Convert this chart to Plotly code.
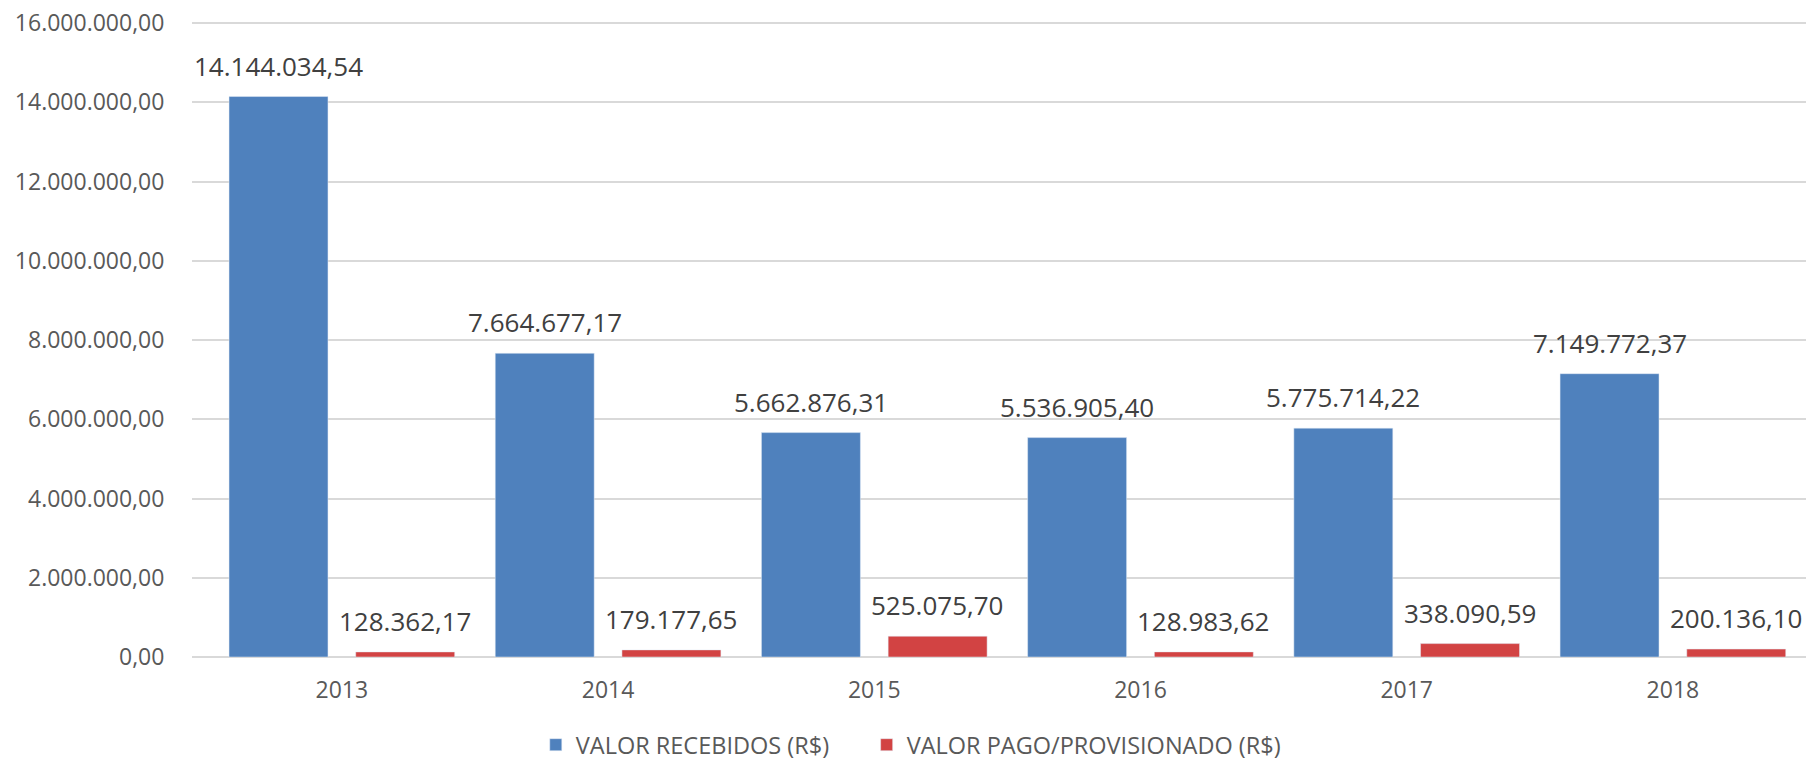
import plotly.graph_objects as go

years = ["2013", "2014", "2015", "2016", "2017", "2018"]
recebidos = [14144034.54, 7664677.17, 5662876.31, 5536905.40, 5775714.22, 7149772.37]
pagos = [128362.17, 179177.65, 525075.70, 128983.62, 338090.59, 200136.10]
name_rec = "VALOR RECEBIDOS (R$)"
name_pag = "VALOR PAGO/PROVISIONADO (R$)"
ytick_vals = [0, 2e6, 4e6, 6e6, 8e6, 10e6, 12e6, 14e6, 16e6]

BLUE = "#4F81BD"
RED = "#D24343"
FONT = "Open Sans"


def br(v):
    s = f"{v:,.2f}"
    return s.replace(",", "X").replace(".", ",").replace("X", ".")


BARGAP = 0.048
fig = go.Figure()
fig.add_trace(go.Bar(x=years, y=recebidos, name=name_rec, marker_color=BLUE,
                     legend="legend"))
fig.add_trace(go.Bar(x=years, y=pagos, name=name_pag, marker_color=RED,
                     legend="legend2"))

off = (1 - BARGAP) / 4
for i, (a, b) in enumerate(zip(recebidos, pagos)):
    for val, dx in ((a, -off), (b, off)):
        fig.add_annotation(x=i + dx, y=val, xref="x", yref="y", text=br(val),
                           showarrow=False, yanchor="bottom", yshift=11,
                           font=dict(family=FONT, size=26, color="#404040"))

legfont = dict(family=FONT, size=23.5, color="#595959")
fig.update_layout(
    width=1808, height=760,
    margin=dict(l=192, r=2, t=20, b=103, autoexpand=False),
    paper_bgcolor="white", plot_bgcolor="white",
    barmode="group", bargap=BARGAP, bargroupgap=0.219,
    separators=",.",
    font=dict(family=FONT, color="#595959"),
    showlegend=True,
    legend=dict(orientation="h", x=0.213, xanchor="left",
                y=-0.138, yanchor="middle", font=legfont, itemclick=False),
    legend2=dict(orientation="h", x=0.418, xanchor="left",
                 y=-0.138, yanchor="middle", font=legfont, itemclick=False),
)
fig.update_yaxes(range=[0, 16.0757e6], tickvals=ytick_vals, tickformat=",.2f",
                 showgrid=True, gridcolor="#D9D9D9", gridwidth=2,
                 zeroline=True, zerolinecolor="#D9D9D9", zerolinewidth=2,
                 ticks="outside", ticklen=22, tickcolor="rgba(0,0,0,0)",
                 tickfont=dict(family=FONT, size=23, color="#595959"))
fig.update_xaxes(type="category", showgrid=False, showline=False,
                 ticks="outside", ticklen=12, tickcolor="rgba(0,0,0,0)",
                 tickfont=dict(family=FONT, size=23, color="#595959"))

fig.write_html("out.html", config={"displayModeBar": False},
               post_script="document.body.style.margin='0';")
